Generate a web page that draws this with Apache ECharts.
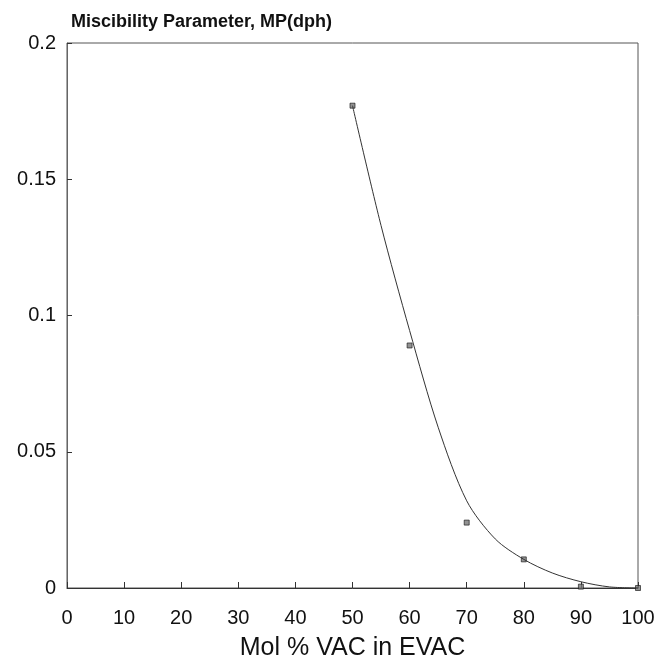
<!DOCTYPE html>
<html>
<head>
<meta charset="utf-8">
<script src="https://cdn.jsdelivr.net/npm/echarts@6/dist/echarts.min.js"></script>
<style>
  html, body { margin: 0; padding: 0; background: #fff; }
  #chart { width: 658px; height: 661px; }
</style>
</head>
<body>
<div id="chart"></div>
<script>
// measured points
const molVac = [50, 60, 70, 80, 90, 100]
const mpValues = [0.177, 0.089, 0.024, 0.0105, 0.0005, 0]

// fitted curve
const curveMol = [50, 55, 60, 65, 70, 75, 80, 85, 90, 95, 100]
const curveMp = [0.177, 0.133, 0.0945, 0.059, 0.032, 0.018, 0.0105, 0.0055, 0.0023, 0.0004, 0]

const font = "'Liberation Sans', Arial, Helvetica, sans-serif"
const ink = '#333'

const chart = echarts.init(document.getElementById('chart'))
chart.setOption({
  animation: false,
  title: {
    text: 'Miscibility Parameter, MP(dph)',
    left: 66,
    top: 8,
    textStyle: { fontFamily: font, fontSize: 18, fontWeight: 'bold', color: '#111' }
  },
  grid: {
    left: 67,
    right: 20,
    top: 43,
    bottom: 73,
    outerBoundsMode: 'none',
    containLabel: false,
    show: true,
    borderColor: '#555',
    borderWidth: 1
  },
  xAxis: {
    type: 'value',
    min: 0,
    max: 100,
    interval: 10,
    name: 'Mol % VAC in EVAC',
    nameLocation: 'middle',
    nameGap: 48,
    nameTextStyle: { fontFamily: font, fontSize: 25, color: '#111' },
    axisLine: { show: true, lineStyle: { color: ink, width: 1 } },
    axisTick: { show: true, inside: true, length: 6, lineStyle: { color: ink } },
    axisLabel: { fontFamily: font, fontSize: 20, color: '#111', margin: 20 },
    splitLine: { show: false }
  },
  yAxis: {
    type: 'value',
    min: 0,
    max: 0.2,
    interval: 0.05,
    axisLine: { show: true, lineStyle: { color: '#666', width: 1 } },
    axisTick: { show: true, inside: true, length: 5, lineStyle: { color: ink } },
    axisLabel: { fontFamily: font, fontSize: 20, color: '#111', margin: 11 },
    splitLine: { show: false }
  },
  series: [
    {
      name: 'fit',
      type: 'line',
      data: curveMol.map((x, i) => [x, curveMp[i]]),
      smooth: 0.3,
      showSymbol: false,
      lineStyle: { color: ink, width: 1 }
    },
    {
      name: 'MP',
      type: 'scatter',
      data: molVac.map((x, i) => [x, mpValues[i]]),
      symbol: 'rect',
      symbolSize: 5,
      itemStyle: { color: '#777', borderColor: '#111', borderWidth: 0.8 }
    }
  ]
})
</script>
</body>
</html>
